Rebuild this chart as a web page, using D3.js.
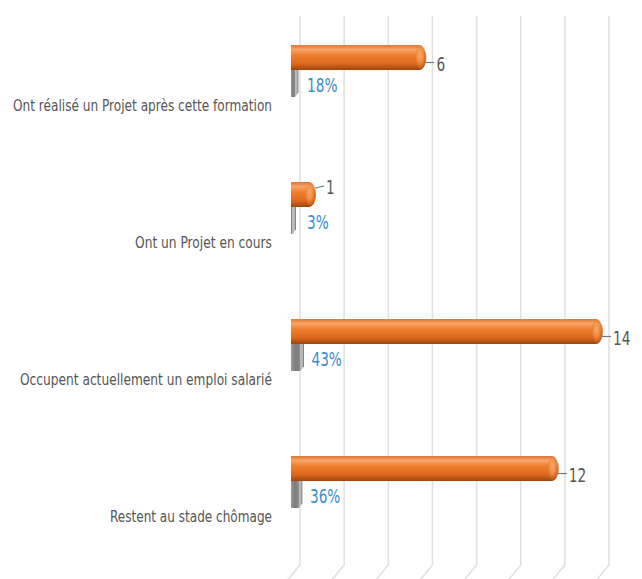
<!DOCTYPE html>
<html>
<head>
<meta charset="utf-8">
<script src="https://cdn.jsdelivr.net/npm/d3@7/dist/d3.min.js"></script>
<style>
  html, body { margin: 0; padding: 0; background: #fff; }
  svg { display: block; }
</style>
</head>
<body>
<svg id="chart" width="642" height="579"></svg>
<script>
// Outcome of the training: counts and shares per category
const categories = [
  "Ont réalisé un Projet après cette formation",
  "Ont un Projet en cours",
  "Occupent actuellement un emploi salarié",
  "Restent au stade chômage"
];
const counts = [6, 1, 14, 12];
const shares = [0.18, 0.03, 0.43, 0.36];
const shareLabels = ["18%", "3%", "43%", "36%"];
const gridTicks = [0, 2, 4, 6, 8, 10, 12, 14];
const labelWidths = [259, 137, 252, 162];

const svg = d3.select("#chart");
const FONT = "'Liberation Sans Narrow', 'DejaVu Sans Condensed', 'Arial Narrow', sans-serif";
const NARROW = 0.8;   // horizontal squeeze applied to the number labels

const x = d3.scaleLinear().domain([0, 14]).range([291, 600]);
const y = d3.scaleBand().domain(categories).range([45, 45 + 4 * 137]).paddingInner(0);

const depthX = 9;      // offset of the back wall
const gridTop = 16, gridBottom = 565;

// gradients
const defs = svg.append("defs");
const og = defs.append("linearGradient").attr("id", "orangeGrad")
  .attr("x1", 0).attr("y1", 0).attr("x2", 0).attr("y2", 1);
[[0, "#dc7636"], [0.18, "#f7a467"], [0.4, "#ef7f2f"], [0.75, "#dc681d"], [1, "#9c4610"]]
  .forEach(([o, c]) => og.append("stop").attr("offset", o).attr("stop-color", c));
const capG = defs.append("radialGradient").attr("id", "capGrad")
  .attr("cx", 0.45).attr("cy", 0.4).attr("r", 0.6);
[[0, "#f9b27a"], [0.6, "#f08a3e"], [1, "#c85d1a"]]
  .forEach(([o, c]) => capG.append("stop").attr("offset", o).attr("stop-color", c));
const gg = defs.append("linearGradient").attr("id", "greyGrad")
  .attr("x1", 0).attr("y1", 0).attr("x2", 1).attr("y2", 0);
[[0, "#9a9a9a"], [0.5, "#7c7c7c"], [1, "#8c8c8c"]]
  .forEach(([o, c]) => gg.append("stop").attr("offset", o).attr("stop-color", c));

// vertical gridlines on the back wall, bending onto the floor
svg.append("g").selectAll("path").data(gridTicks).join("path")
  .attr("d", v => {
    const xb = x(v) + depthX;
    return `M${xb},${gridTop}V${gridBottom}L${xb - 14},${gridBottom + 17}`;
  })
  .attr("fill", "none").attr("stroke", "#e0e0e0").attr("stroke-width", 1.5);

const barH = 25, greyH = 27;

// orange cylinders for the counts
const bars = svg.append("g");
bars.selectAll("path.bar").data(categories).join("path")
  .attr("class", "bar")
  .attr("d", (c, i) => {
    const x0 = x(0), x1 = x(counts[i]) + 3, y0 = y(c), r = 7;
    return `M${x0},${y0}H${x1 - r}A${r},${barH / 2} 0 0 1 ${x1},${y0 + barH / 2}` +
           `A${r},${barH / 2} 0 0 1 ${x1 - r},${y0 + barH}H${x0}Z`;
  })
  .attr("fill", "url(#orangeGrad)");
bars.selectAll("ellipse").data(categories).join("ellipse")
  .attr("cx", (c, i) => x(counts[i]) - 3)
  .attr("cy", c => y(c) + barH / 2)
  .attr("rx", 5).attr("ry", barH / 2 - 1.5)
  .attr("fill", "url(#capGrad)").attr("opacity", 0.85);

// grey blocks for the shares
const greyEnd = i => x(0) + Math.max(1.5, x(shares[i]) - x(0));
const greys = svg.append("g");
greys.selectAll("rect").data(categories).join("rect")
  .attr("x", x(0))
  .attr("y", c => y(c) + barH)
  .attr("width", (c, i) => greyEnd(i) - x(0))
  .attr("height", greyH)
  .attr("fill", "url(#greyGrad)");
greys.selectAll("path").data(categories).join("path")
  .attr("d", (c, i) => {
    const xe = greyEnd(i), y0 = y(c) + barH, y1 = y0 + greyH;
    return `M${xe},${y0}L${xe + 3},${y0}L${xe + 3},${y1 - 4}L${xe},${y1}Z`;
  })
  .attr("fill", "#b8b8b8");
greys.selectAll("line").data(categories).join("line")
  .attr("x1", (c, i) => greyEnd(i) + 3)
  .attr("x2", (c, i) => greyEnd(i) + 3)
  .attr("y1", c => y(c) + barH).attr("y2", c => y(c) + barH + greyH - 4)
  .attr("stroke", "#6e6e6e").attr("stroke-width", 0.8);

// count labels with leader lines
const valueY = (c, i) => counts[i] < 2 ? y(c) + 5 : y(c) + barH / 2 + 7;
const labels = svg.append("g");
labels.selectAll("line").data(categories).join("line")
  .attr("x1", (c, i) => x(counts[i]) + 2)
  .attr("x2", (c, i) => x(counts[i]) + 11)
  .attr("y1", (c, i) => counts[i] < 2 ? y(c) + 6 : y(c) + barH / 2 + 5)
  .attr("y2", (c, i) => counts[i] < 2 ? y(c) + 4 : y(c) + barH / 2 + 5)
  .attr("stroke", "#777").attr("stroke-width", 1.2);
labels.selectAll("text").data(categories).join("text")
  .attr("transform", (c, i) => `translate(${x(counts[i]) + 13},${valueY(c, i)}) scale(${NARROW},1)`)
  .attr("dominant-baseline", "central")
  .attr("font-family", FONT).attr("font-size", 19)
  .attr("fill", "#555")
  .text((c, i) => counts[i]);

// share labels
svg.append("g").selectAll("text").data(categories).join("text")
  .attr("transform", (c, i) =>
    `translate(${Math.max(307, x(shares[i]) + 11)},${y(c) + barH + greyH / 2 + 2}) scale(${NARROW},1)`)
  .attr("dominant-baseline", "central")
  .attr("font-family", FONT).attr("font-size", 19)
  .attr("fill", "#3a8dd0")
  .text((c, i) => shareLabels[i]);

// category labels
svg.append("g").selectAll("text").data(categories).join("text")
  .attr("x", 272)
  .attr("y", c => y(c) + 66)
  .attr("text-anchor", "end")
  .attr("font-family", FONT).attr("font-size", 15)
  .attr("fill", "#555")
  .attr("textLength", (c, i) => labelWidths[i])
  .attr("lengthAdjust", "spacingAndGlyphs")
  .text(c => c);
</script>
</body>
</html>
